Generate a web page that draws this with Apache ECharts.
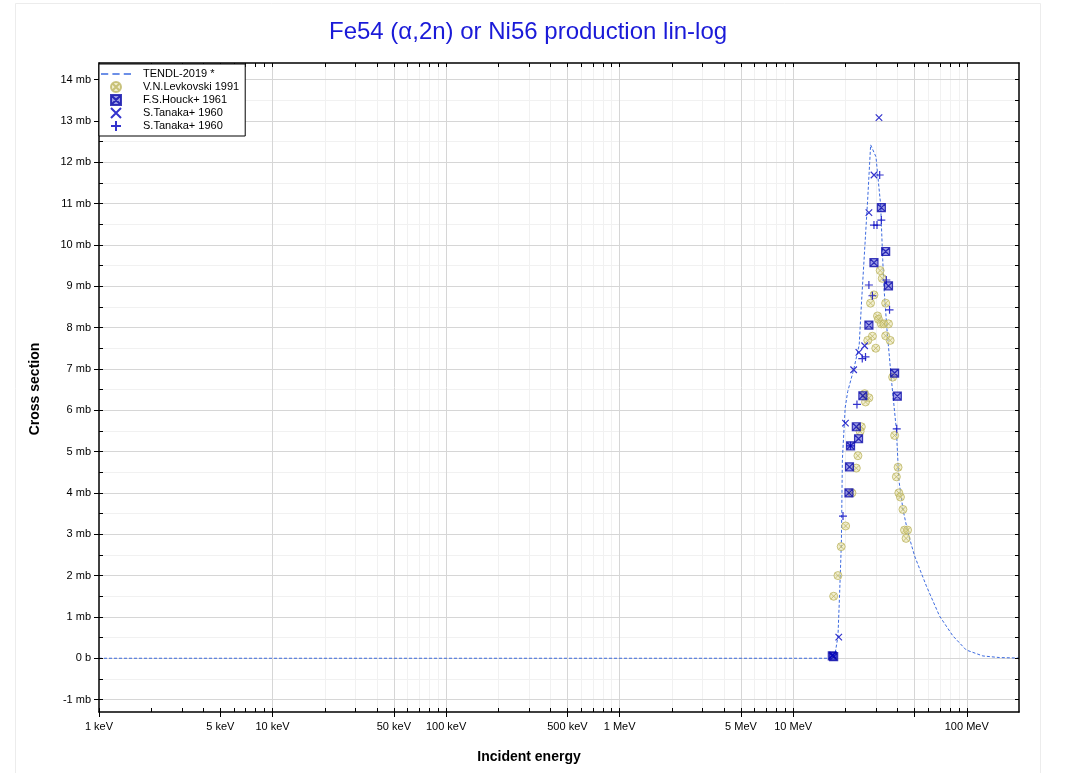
<!DOCTYPE html>
<html><head><meta charset="utf-8">
<script src="https://cdn.jsdelivr.net/npm/echarts@6/dist/echarts.min.js"></script>
<style>html,body{margin:0;padding:0;background:#fff}#c{width:1067px;height:773px}</style>
</head><body><div id="c"></div>
<script>
// ---- data (energy in MeV, cross section in mb) ----
const tendl = [[0.001,0],[16.68,0],[17.33,0.05],[18.11,0.53],[18.52,1.59],[18.95,2.8],[19.2,4.81],[19.93,6.06],[20.6,6.45],[22.3,6.98],[24.0,7.58],[24.8,8.67],[25.8,9.88],[26.85,11.09],[27.94,12.42],[29.98,12.13],[31.9,10.97],[32.8,9.64],[33.4,8.91],[34.7,7.95],[36.8,6.74],[39.3,5.53],[40.6,4.32],[42.9,3.6],[45.8,3.04],[50.1,2.47],[58.5,1.75],[69.7,1.02],[83.2,0.54],[99.3,0.2],[123.8,0.056],[154.5,0.017],[200,0.005]];
const levkovski = [[31.7,9.38],[32.6,9.19],[29.2,8.79],[27.9,8.59],[34.1,8.59],[30.6,8.28],[31.0,8.20],[32.2,8.09],[33.3,8.09],[35.4,8.09],[28.6,7.79],[26.9,7.69],[34.1,7.80],[36.2,7.69],[29.9,7.50],[37.4,6.80],[25.8,6.40],[27.3,6.30],[26.1,6.20],[24.7,5.60],[24.3,5.49],[38.4,5.39],[23.6,4.90],[23.1,4.60],[40.2,4.62],[39.3,4.39],[21.8,4.00],[40.6,4.00],[41.5,3.90],[42.9,3.60],[20.05,3.20],[43.8,3.10],[45.6,3.10],[44.7,2.90],[18.9,2.70],[18.1,2.00],[17.1,1.50]];
const houck = [[32.2,10.90],[34.1,9.84],[29.2,9.57],[35.4,9.01],[27.3,8.06],[38.4,6.90],[25.2,6.35],[39.8,6.34],[23.1,5.60],[23.8,5.31],[21.4,5.14],[21.1,4.63],[20.95,4.00],[16.8,0.06],[17.1,0.04]];
const tanakaX = [[31.2,13.08],[29.2,11.69],[27.3,10.78],[25.8,7.56],[23.9,7.40],[22.3,6.98],[20.0,5.69],[18.3,0.51],[16.9,0.08]];
const tanakaPlus = [[31.5,11.69],[32.2,10.60],[29.2,10.48],[30.4,10.48],[34.4,9.15],[27.3,9.03],[28.6,8.77],[35.9,8.43],[25.0,7.25],[26.1,7.29],[23.3,6.14],[39.5,5.55],[21.4,5.14],[19.36,3.44]];

const xMajorTicks = [0.001,0.005,0.01,0.05,0.1,0.5,1,5,10,50,100];
const xMajorLabels = ['1 keV','5 keV','10 keV','50 keV','100 keV','500 keV','1 MeV','5 MeV','10 MeV','','100 MeV'];
const xMinorTicks = [0.002,0.003,0.004,0.006,0.007,0.008,0.009,
  0.02,0.03,0.04,0.06,0.07,0.08,0.09,
  0.2,0.3,0.4,0.6,0.7,0.8,0.9,
  2,3,4,6,7,8,9,
  20,30,40,60,70,80,90];
const yMajorTicks = [-1,0,1,2,3,4,5,6,7,8,9,10,11,12,13,14];
const yMinorTicks = [-0.5,0.5,1.5,2.5,3.5,4.5,5.5,6.5,7.5,8.5,9.5,10.5,11.5,12.5,13.5];

const X_MIN = 0.001, X_MAX = 200, Y_MIN = -1.3, Y_MAX = 14.4;
const FONT = 'Liberation Sans, Arial, sans-serif';
const lg = Math.log10;
const asc = (a, b) => a - b;

const xLabelFmt = v => {
  for (let i = 0; i < xMajorTicks.length; i++) if (Math.abs(lg(xMajorTicks[i]) - v) < 1e-6) return xMajorLabels[i];
  return '';
};
const yLabelFmt = v => (v === 0 ? '0 b' : v + ' mb');

// gridlines (drawn through the axes as mark lines)
const gridLines = [];
xMinorTicks.forEach(v => gridLines.push({xAxis: v, lineStyle: {color: '#f1f1f1', width: 1, type: 'solid'}}));
yMinorTicks.forEach(v => gridLines.push({yAxis: v, lineStyle: {color: '#f1f1f1', width: 1, type: 'solid'}}));
xMajorTicks.slice(1).forEach(v => gridLines.push({xAxis: v, lineStyle: {color: '#d6d6d6', width: 1, type: 'solid'}}));
yMajorTicks.forEach(v => gridLines.push({yAxis: v, lineStyle: {color: '#d6d6d6', width: 1, type: 'solid'}}));

const black = {color: '#000', width: 1};
const noAxis = {show: false, onZero: false};
const annotX = (pos, tick, label, line) => ({
  type: 'value', min: lg(X_MIN), max: lg(X_MAX), position: pos, z: 20,
  axisLine: line || noAxis, axisTick: tick, axisLabel: label || {show: false},
  splitLine: {show: false}
});
const annotY = (pos, tick, label, line) => ({
  type: 'value', min: Y_MIN, max: Y_MAX, position: pos, z: 20,
  axisLine: line || noAxis, axisTick: tick, axisLabel: label || {show: false},
  splitLine: {show: false}
});
const allX = xMajorTicks.concat(xMinorTicks).sort(asc).map(lg);
const allY = yMajorTicks.concat(yMinorTicks).sort(asc);

const PATH_OTIMES = 'path://M0,-5A5,5 0 1,1 0,5A5,5 0 1,1 0,-5ZM-3.5,-3.5L3.5,3.5M-3.5,3.5L3.5,-3.5';
const PATH_BOXTIMES = 'path://M-5,-5L5,-5L5,5L-5,5ZM-5,-5L5,5M-5,5L5,-5';
const PATH_TIMES = 'path://M-5,-5L5,5M-5,5L5,-5';
const PATH_PLUS = 'path://M0,-5L0,5M-5,0L5,0';
const PATH_DASH = 'path://M0,0h7v1.3h-7zM11,0h7v1.3h-7zM22,0h7v1.3h-7z';

const chart = echarts.init(document.getElementById('c'), null, {renderer: 'canvas'});
chart.setOption({
  animation: false,
  backgroundColor: '#fff',
  textStyle: {fontFamily: FONT},
  title: {
    text: 'Fe54 (α,2n) or Ni56 production lin-log', left: 329, top: 20, padding: 0,
    textStyle: {fontSize: 24, fontWeight: 'normal', color: '#1a1ad8', fontFamily: FONT}
  },
  grid: {left: 99, right: 48, top: 63, bottom: 61, containLabel: false},
  xAxis: [
    {type: 'log', logBase: 10, min: X_MIN, max: X_MAX, position: 'bottom', z: 20,
     axisLine: {show: true, onZero: false, lineStyle: {color: '#000', width: 1.5}},
     axisTick: {show: false}, axisLabel: {show: false}, splitLine: {show: false}, minorTick: {show: false}},
    annotX('bottom', {show: true, inside: false, length: 5, customValues: xMajorTicks.map(lg), lineStyle: black},
      {show: true, customValues: xMajorTicks.filter((v, i) => xMajorLabels[i] !== '').map(lg), formatter: xLabelFmt,
       margin: 9, fontSize: 11, color: '#000', fontFamily: FONT}),
    annotX('bottom', {show: true, inside: true, length: 4, customValues: allX, lineStyle: black}),
    annotX('top', {show: true, inside: true, length: 4, customValues: allX, lineStyle: black}, null,
      {show: true, onZero: false, lineStyle: {color: '#000', width: 1.5}})
  ],
  yAxis: [
    {type: 'value', min: Y_MIN, max: Y_MAX, position: 'left', z: 20,
     axisLine: {show: true, onZero: false, lineStyle: {color: '#000', width: 1.5}},
     axisTick: {show: true, inside: false, length: 5, customValues: yMajorTicks, lineStyle: black},
     axisLabel: {show: true, customValues: yMajorTicks, formatter: yLabelFmt, margin: 8, fontSize: 11, color: '#000', fontFamily: FONT},
     splitLine: {show: false}},
    annotY('left', {show: true, inside: true, length: 4, customValues: allY, lineStyle: black}),
    annotY('right', {show: true, inside: true, length: 4, customValues: allY, lineStyle: black}, null,
      {show: true, onZero: false, lineStyle: {color: '#000', width: 1.5}})
  ],
  legend: {
    orient: 'vertical', left: 99, top: 64, padding: [4, 6, 4, 2], itemGap: 1, itemWidth: 30, itemHeight: 10,
    backgroundColor: '#fff', borderColor: '#000', borderWidth: 1, borderRadius: 0, selectedMode: false,
    textStyle: {fontSize: 11, lineHeight: 12, color: '#000', fontFamily: FONT, padding: [0, 0, 0, 7]},
    data: [{name: 'TENDL-2019 *', icon: PATH_DASH}, 'V.N.Levkovski 1991', 'F.S.Houck+ 1961', 'S.Tanaka+ 1960', 'S.Tanaka+ 1960 '],
    z: 30
  },
  series: [
    {name: 'TENDL-2019 *', type: 'line', xAxisIndex: 0, yAxisIndex: 0, data: tendl, symbol: 'none', z: 10,
     lineStyle: {color: '#3d6be0', width: 1, type: [3, 2]}, itemStyle: {color: '#3d6be0'},
     markLine: {silent: true, symbol: ['none', 'none'], label: {show: false}, emphasis: {disabled: true},
       animation: false, data: gridLines}},
    {name: 'V.N.Levkovski 1991', type: 'scatter', xAxisIndex: 0, yAxisIndex: 0, data: levkovski, z: 11,
     symbol: PATH_OTIMES, symbolSize: 8,
     itemStyle: {color: 'rgba(225,218,150,0.55)', borderColor: '#bdb562', borderWidth: 1}},
    {name: 'F.S.Houck+ 1961', type: 'scatter', xAxisIndex: 0, yAxisIndex: 0, data: houck, z: 12,
     symbol: PATH_BOXTIMES, symbolSize: 8,
     itemStyle: {color: 'rgba(30,30,200,0.55)', borderColor: '#0c0caa', borderWidth: 1.2}},
    {name: 'S.Tanaka+ 1960', type: 'scatter', xAxisIndex: 0, yAxisIndex: 0, data: tanakaX, z: 13,
     symbol: PATH_TIMES, symbolSize: 6.5,
     itemStyle: {color: 'rgba(0,0,0,0)', borderColor: '#0000c0', borderWidth: 1.2}},
    {name: 'S.Tanaka+ 1960 ', type: 'scatter', xAxisIndex: 0, yAxisIndex: 0, data: tanakaPlus, z: 13,
     symbol: PATH_PLUS, symbolSize: 8,
     itemStyle: {color: 'rgba(0,0,0,0)', borderColor: '#0000c0', borderWidth: 1.2}}
  ],
  graphic: [
    {type: 'rect', z: -10, silent: true, shape: {x: 15.5, y: 3.5, width: 1025, height: 800},
     style: {fill: 'none', stroke: '#ececec', lineWidth: 1}},
    {type: 'text', x: 529, y: 757, silent: true,
     style: {text: 'Incident energy', font: 'bold 14px ' + FONT, fill: '#000', textAlign: 'center', textVerticalAlign: 'middle'}},
    {type: 'text', x: 35, y: 389, rotation: Math.PI / 2, silent: true,
     style: {text: 'Cross section', font: 'bold 14px ' + FONT, fill: '#000', textAlign: 'center', textVerticalAlign: 'middle'}}
  ]
});
</script>
</body></html>
